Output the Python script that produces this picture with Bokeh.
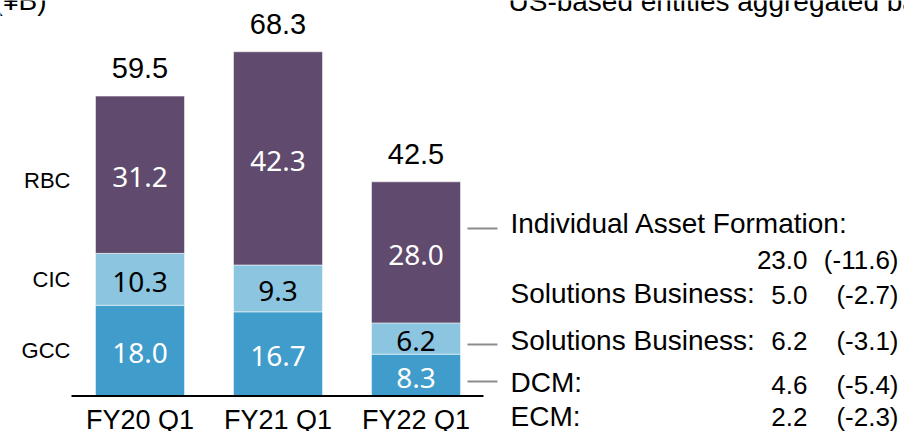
from bokeh.plotting import figure
from bokeh.models import ColumnDataSource, Range1d
from bokeh.core.properties import value
from bokeh.embed import file_html
from bokeh.resources import INLINE
import numpy as np

# ---------------- data ----------------
quarters = ["FY20 Q1", "FY21 Q1", "FY22 Q1"]
segments = ["GCC", "CIC", "RBC"]
gcc = [18.0, 16.7, 8.3]
cic = [10.3, 9.3, 6.2]
rbc = [31.2, 42.3, 28.0]
totals = [59.5, 68.3, 42.5]

ann_labels = ["Individual Asset Formation:", "", "Solutions Business:",
              "Solutions Business:", "DCM:", "ECM:"]
ann_values = ["", "23.0", "5.0", "6.2", "4.6", "2.2"]
ann_changes = ["", "(-11.6)", "(-2.7)", "(-3.1)", "(-5.4)", "(-2.3)"]

unit_text = "(¥B)"
note_text = "US-based entities aggregated basis"

# ---------------- layout (pixels of the picture) ----------------
W, H = 904, 431
SCALE = 5.04          # px per unit
BASE_SY = 395.5       # y of value 0
X0_S = 139.5          # x of first bar center
STEP = 138.0          # px between bars
BAR_W = 89.0 / STEP
BL = 0.36             # baseline correction (fraction of font size)

def dx(sx):
    return (sx - X0_S) / STEP

def dy(sy):
    return (BASE_SY - sy) / SCALE

def ty(sy, fs):
    # data y for a text whose visible baseline should sit at pixel sy
    return dy(sy - BL * fs)

colors = ["#409CCA", "#8CC5E0", "#604A6E"]
label_colors = ["white", "black", "white"]

p = figure(width=W, height=H, output_backend="svg", toolbar_location=None,
           x_axis_type=None, y_axis_type=None, min_border=0,
           x_range=Range1d(dx(0), dx(W)),
           y_range=Range1d(dy(H), dy(0)))
p.outline_line_color = None
p.grid.visible = False
p.background_fill_color = "white"

xs = list(range(len(quarters)))
src = ColumnDataSource(dict(x=xs, GCC=gcc, CIC=cic, RBC=rbc))
p.vbar_stack(segments, x="x", width=BAR_W, color=colors, source=src,
             line_color="white", line_width=1, line_alpha=0.5)

# segment value labels
stack = np.array([gcc, cic, rbc])
cum = np.cumsum(stack, axis=0)
bottoms = cum - stack
for k in range(len(segments)):
    mids = (bottoms[k] + cum[k]) / 2.0
    ly = [m - (12.5 - BL * 28) / SCALE for m in mids]
    p.text(x=xs, y=ly, text=[f"{v:.1f}" for v in stack[k]],
           text_align="center", text_baseline="alphabetic",
           text_font=value("Noto Sans"), text_font_size="28px",
           text_color=label_colors[k])

# totals
p.text(x=xs, y=[t + (17.5 + BL * 29) / SCALE for t in totals],
       text=[f"{t:.1f}" for t in totals],
       text_align="center", text_baseline="alphabetic",
       text_font=value("Liberation Sans"), text_font_size="29px",
       text_color="black")

# quarter labels
p.text(x=xs, y=[ty(429.5, 27)] * len(xs), text=quarters,
       text_align="center", text_baseline="alphabetic",
       text_font=value("Liberation Sans"), text_font_size="27px",
       text_color="black")

# segment names on left
seg_base = [ty(358, 22), ty(287, 22), ty(188, 22)]
p.text(x=[dx(70)] * 3, y=seg_base, text=segments,
       text_align="right", text_baseline="alphabetic",
       text_font=value("Liberation Sans"), text_font_size="22px",
       text_color="black")

# axis line
p.segment(x0=[dx(71)], y0=[0], x1=[dx(483)], y1=[0],
          line_color="black", line_width=2)

# connector lines
conn_y = [dy(228), dy(344), dy(381)]
p.segment(x0=[dx(467)] * 3, y0=conn_y, x1=[dx(497)] * 3, y1=conn_y,
          line_color="#8C8C8C", line_width=2)

# right annotation
label_base = [ty(s, 28) for s in (233, 269, 303, 350, 392, 426)]
num_base = [ty(s, 26) for s in (233, 269, 304, 350, 394, 426)]
p.text(x=[dx(510)] * 6, y=label_base, text=ann_labels,
       text_align="left", text_baseline="alphabetic",
       text_font=value("Liberation Sans"), text_font_size="28px",
       text_color="black")
p.text(x=[dx(807)] * 6, y=num_base, text=ann_values,
       text_align="right", text_baseline="alphabetic",
       text_font=value("Liberation Sans"), text_font_size="26px",
       text_color="black")
p.text(x=[dx(898)] * 6, y=num_base, text=ann_changes,
       text_align="right", text_baseline="alphabetic",
       text_font=value("Liberation Sans"), text_font_size="26px",
       text_color="black")

# cut-off header texts
p.text(x=[dx(46)], y=[ty(10, 28)], text=[unit_text], text_align="right",
       text_baseline="alphabetic", text_font=value("Liberation Sans"),
       text_font_size="28px", text_color="black")
p.text(x=[dx(508)], y=[ty(11, 28)], text=[note_text], text_align="left",
       text_baseline="alphabetic", text_font=value("Liberation Sans"),
       text_font_size="28px", text_color="black")

open("out.html", "w").write(file_html(p, INLINE))
